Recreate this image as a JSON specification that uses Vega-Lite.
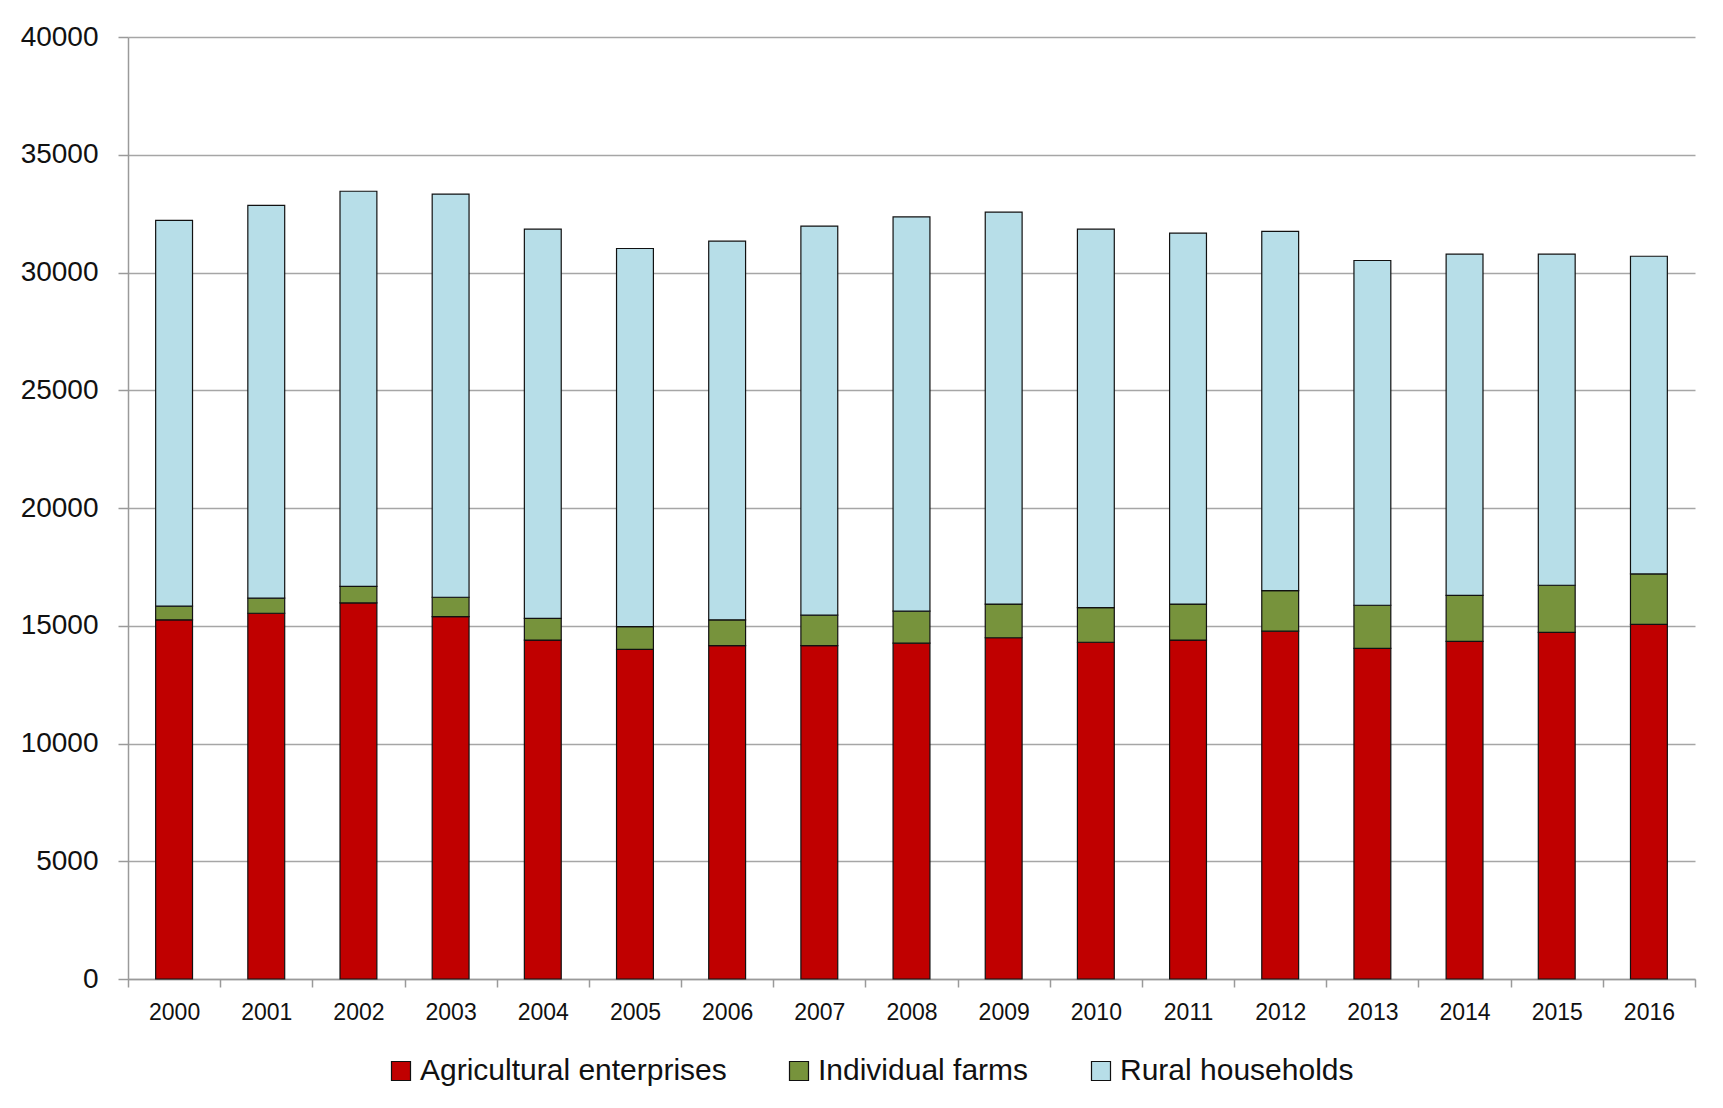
{
  "$schema": "https://vega.github.io/schema/vega-lite/v6.json",
  "autosize": {"type": "none"},
  "width": 1567,
  "height": 942,
  "padding": {"left": 128, "top": 37, "right": 28, "bottom": 129},
  "background": "white",
  "data": {
    "values": [
      {"year": "2000", "series": "Agricultural enterprises", "k": 1, "value": 15250},
      {"year": "2000", "series": "Individual farms", "k": 2, "value": 580},
      {"year": "2000", "series": "Rural households", "k": 3, "value": 16380},
      {"year": "2001", "series": "Agricultural enterprises", "k": 1, "value": 15530},
      {"year": "2001", "series": "Individual farms", "k": 2, "value": 640},
      {"year": "2001", "series": "Rural households", "k": 3, "value": 16680},
      {"year": "2002", "series": "Agricultural enterprises", "k": 1, "value": 15970},
      {"year": "2002", "series": "Individual farms", "k": 2, "value": 700},
      {"year": "2002", "series": "Rural households", "k": 3, "value": 16780},
      {"year": "2003", "series": "Agricultural enterprises", "k": 1, "value": 15390},
      {"year": "2003", "series": "Individual farms", "k": 2, "value": 820},
      {"year": "2003", "series": "Rural households", "k": 3, "value": 17120},
      {"year": "2004", "series": "Agricultural enterprises", "k": 1, "value": 14390},
      {"year": "2004", "series": "Individual farms", "k": 2, "value": 920},
      {"year": "2004", "series": "Rural households", "k": 3, "value": 16530},
      {"year": "2005", "series": "Agricultural enterprises", "k": 1, "value": 14000},
      {"year": "2005", "series": "Individual farms", "k": 2, "value": 960},
      {"year": "2005", "series": "Rural households", "k": 3, "value": 16060},
      {"year": "2006", "series": "Agricultural enterprises", "k": 1, "value": 14160},
      {"year": "2006", "series": "Individual farms", "k": 2, "value": 1090},
      {"year": "2006", "series": "Rural households", "k": 3, "value": 16080},
      {"year": "2007", "series": "Agricultural enterprises", "k": 1, "value": 14160},
      {"year": "2007", "series": "Individual farms", "k": 2, "value": 1290},
      {"year": "2007", "series": "Rural households", "k": 3, "value": 16520},
      {"year": "2008", "series": "Agricultural enterprises", "k": 1, "value": 14260},
      {"year": "2008", "series": "Individual farms", "k": 2, "value": 1360},
      {"year": "2008", "series": "Rural households", "k": 3, "value": 16740},
      {"year": "2009", "series": "Agricultural enterprises", "k": 1, "value": 14490},
      {"year": "2009", "series": "Individual farms", "k": 2, "value": 1430},
      {"year": "2009", "series": "Rural households", "k": 3, "value": 16640},
      {"year": "2010", "series": "Agricultural enterprises", "k": 1, "value": 14300},
      {"year": "2010", "series": "Individual farms", "k": 2, "value": 1470},
      {"year": "2010", "series": "Rural households", "k": 3, "value": 16070},
      {"year": "2011", "series": "Agricultural enterprises", "k": 1, "value": 14390},
      {"year": "2011", "series": "Individual farms", "k": 2, "value": 1530},
      {"year": "2011", "series": "Rural households", "k": 3, "value": 15750},
      {"year": "2012", "series": "Agricultural enterprises", "k": 1, "value": 14770},
      {"year": "2012", "series": "Individual farms", "k": 2, "value": 1720},
      {"year": "2012", "series": "Rural households", "k": 3, "value": 15260},
      {"year": "2013", "series": "Agricultural enterprises", "k": 1, "value": 14040},
      {"year": "2013", "series": "Individual farms", "k": 2, "value": 1830},
      {"year": "2013", "series": "Rural households", "k": 3, "value": 14640},
      {"year": "2014", "series": "Agricultural enterprises", "k": 1, "value": 14340},
      {"year": "2014", "series": "Individual farms", "k": 2, "value": 1950},
      {"year": "2014", "series": "Rural households", "k": 3, "value": 14490},
      {"year": "2015", "series": "Agricultural enterprises", "k": 1, "value": 14720},
      {"year": "2015", "series": "Individual farms", "k": 2, "value": 2000},
      {"year": "2015", "series": "Rural households", "k": 3, "value": 14060},
      {"year": "2016", "series": "Agricultural enterprises", "k": 1, "value": 15060},
      {"year": "2016", "series": "Individual farms", "k": 2, "value": 2140},
      {"year": "2016", "series": "Rural households", "k": 3, "value": 13490}
    ]
  },
  "mark": {
    "type": "bar",
    "width": {"band": 0.4},
    "stroke": "#111111",
    "strokeWidth": 1.2
  },
  "encoding": {
    "x": {
      "field": "year",
      "type": "ordinal",
      "scale": {"paddingInner": 0, "paddingOuter": 0},
      "axis": {
        "title": null,
        "labelAngle": 0,
        "labelFont": "Liberation Sans",
        "labelFontSize": 23,
        "labelColor": "#111111",
        "labelPadding": 14,
        "tickBand": "extent",
        "tickSize": 8,
        "tickColor": "#9a9a9a",
        "tickWidth": 1.5,
        "domainColor": "#9a9a9a",
        "domainWidth": 1.5,
        "grid": false
      }
    },
    "y": {
      "field": "value",
      "type": "quantitative",
      "stack": "zero",
      "scale": {"domain": [0, 40000], "nice": false},
      "axis": {
        "title": null,
        "values": [0, 5000, 10000, 15000, 20000, 25000, 30000, 35000, 40000],
        "format": "d",
        "labelFont": "Liberation Sans",
        "labelFontSize": 28,
        "labelColor": "#111111",
        "labelPadding": 20,
        "tickSize": 10,
        "tickColor": "#9a9a9a",
        "tickWidth": 1.5,
        "domainColor": "#9a9a9a",
        "domainWidth": 1.5,
        "grid": true,
        "gridColor": "#a6a6a6",
        "gridWidth": 1.5
      }
    },
    "color": {
      "field": "series",
      "type": "nominal",
      "scale": {
        "domain": ["Agricultural enterprises", "Individual farms", "Rural households"],
        "range": ["#c00000", "#77933c", "#b7dee8"]
      },
      "legend": {
        "title": null,
        "orient": "none",
        "direction": "horizontal",
        "legendX": 258,
        "legendY": 1019,
        "symbolType": "square",
        "symbolSize": 361,
        "symbolStrokeColor": "#111111",
        "symbolStrokeWidth": 1.2,
        "symbolOpacity": 1,
        "labelFont": "Liberation Sans",
        "labelFontSize": 30,
        "labelColor": "#111111",
        "labelOffset": 4,
        "columnPadding": 57,
        "labelLimit": 500
      }
    },
    "order": {"field": "k", "type": "quantitative"}
  },
  "config": {
    "view": {"stroke": null}
  }
}
